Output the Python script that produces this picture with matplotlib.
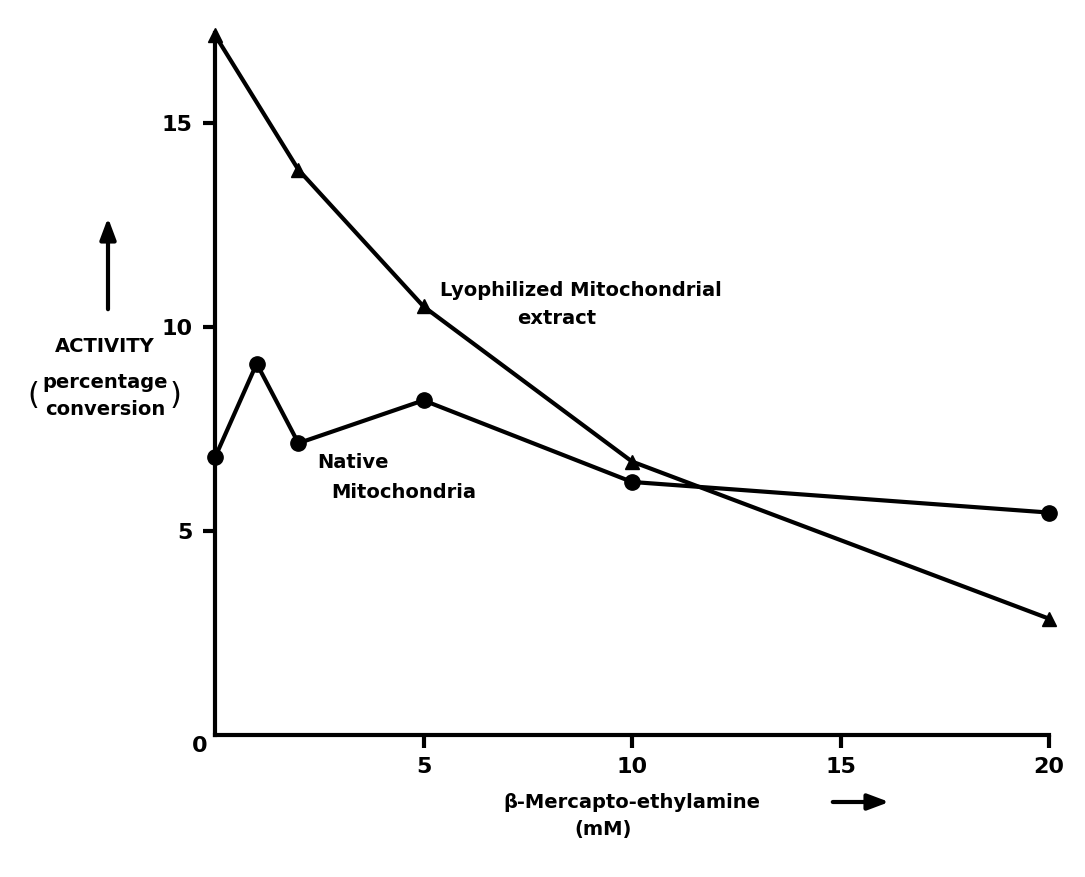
import matplotlib
matplotlib.use("Agg")
import matplotlib.pyplot as plt

plt.rcParams['font.family'] = ['Liberation Sans Narrow', 'DejaVu Sans']
plt.rcParams['font.weight'] = 'bold'

# data
lyo_x = [0, 2, 5, 10, 20]
lyo_y = [17.15, 13.85, 10.5, 6.7, 2.85]
nat_x = [0, 1, 2, 5, 10, 20]
nat_y = [6.8, 9.1, 7.15, 8.2, 6.2, 5.45]
xticks = [5, 10, 15, 20]
yticks = [5, 10, 15]

W, H = 1085, 877
fig = plt.figure(figsize=(W / 100, H / 100), dpi=100)
ax = fig.add_axes([215 / W, 1 - 735 / H, (1049 - 215) / W, (735 - 33) / H])

ax.plot(lyo_x, lyo_y, color='black', lw=3, marker='^', ms=10, clip_on=False, zorder=3)
ax.plot(nat_x, nat_y, color='black', lw=3, marker='o', ms=11, clip_on=False, zorder=3)

ax.set_xlim(0, 20)
ax.set_ylim(0, 17.2)
ax.set_xticks(xticks)
ax.set_yticks(yticks)
ax.tick_params(width=3, length=9, labelsize=16, pad=7)
for lab in ax.get_xticklabels() + ax.get_yticklabels():
    lab.set_fontweight('bold')
for s in ['top', 'right']:
    ax.spines[s].set_visible(False)
for s in ['left', 'bottom']:
    ax.spines[s].set_linewidth(3)

def ftext(px, py, s, **kw):
    kw.setdefault('fontsize', 14)
    kw.setdefault('fontweight', 'bold')
    fig.text(px / W, 1 - py / H, s, **kw)

ftext(200, 746, '0', ha='center', va='center', fontsize=16)

# y label block
ftext(105, 347, 'ACTIVITY', ha='center', va='center')
ftext(105, 382, 'percentage', ha='center', va='center')
ftext(105, 410, 'conversion', ha='center', va='center')
ftext(33, 396, '(', ha='center', va='center', fontsize=22, fontweight='normal')
ftext(175, 396, ')', ha='center', va='center', fontsize=22, fontweight='normal')
fig.add_artist(matplotlib.patches.FancyArrowPatch(
    (108 / W, 1 - 312 / H), (108 / W, 1 - 215 / H), transform=fig.transFigure,
    arrowstyle='-|>,head_length=0.8,head_width=0.3', mutation_scale=16, lw=3, color='black'))

# x label block
ftext(503, 802, 'β-Mercapto-ethylamine', ha='left', va='center')
ftext(603, 829, '(mM)', ha='center', va='center')
fig.add_artist(matplotlib.patches.FancyArrowPatch(
    (830 / W, 1 - 802 / H), (892 / W, 1 - 802 / H), transform=fig.transFigure,
    arrowstyle='-|>,head_length=0.8,head_width=0.3', mutation_scale=16, lw=3, color='black'))

# curve labels
ftext(440, 291, 'Lyophilized Mitochondrial', ha='left', va='center')
ftext(557, 318, 'extract', ha='center', va='center')
ftext(317, 462, 'Native', ha='left', va='center')
ftext(331, 493, 'Mitochondria', ha='left', va='center')

fig.savefig('out.png', dpi=100)
